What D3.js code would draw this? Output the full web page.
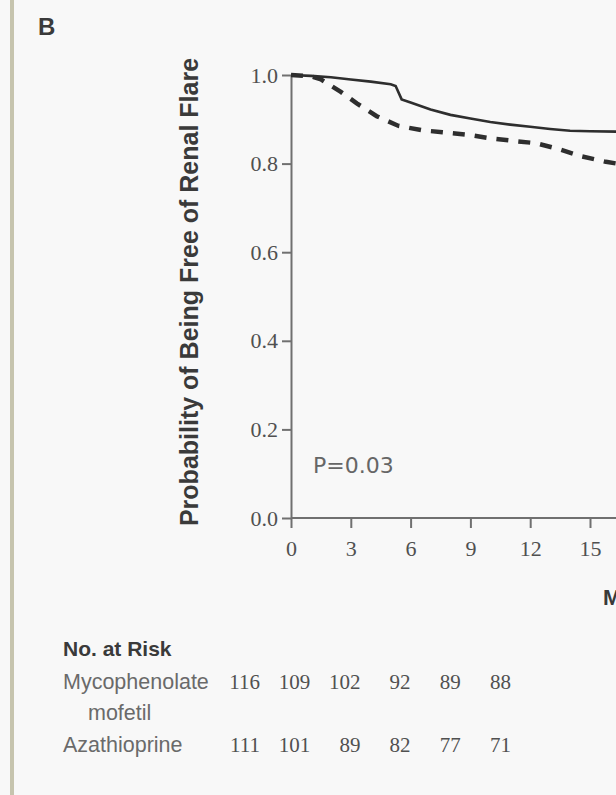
<!DOCTYPE html>
<html>
<head>
<meta charset="utf-8">
<script src="https://cdn.jsdelivr.net/npm/d3@7"></script>
<style>
body{margin:0;background:#f8f8f8;}
svg{display:block;}
</style>
</head>
<body>
<div id="chart"></div>
<script>
// Kaplan-Meier readings, months and survival, one pair per arm
var mmfMonths = [0, 1, 2, 3, 4, 5, 5.25, 5.55, 6, 7, 8, 9, 10, 11, 12, 13, 14, 15, 16.5]
var mmfSurv = [1, 0.998, 0.995, 0.99, 0.985, 0.979, 0.975, 0.945, 0.938, 0.922, 0.91, 0.902, 0.894, 0.888, 0.883, 0.878, 0.874, 0.873, 0.872]
var azaMonths = [0, 1, 1.5, 2.5, 3.3, 4.3, 5.4, 6.6, 7.6, 8.9, 10, 11.2, 12.3, 13.5, 14.6, 15.8, 16.5]
var azaSurv = [1, 0.997, 0.99, 0.962, 0.936, 0.907, 0.885, 0.875, 0.871, 0.865, 0.857, 0.851, 0.846, 0.832, 0.816, 0.804, 0.799]

var xTicks = [0, 3, 6, 9, 12, 15]
var yTicks = [0, 0.2, 0.4, 0.6, 0.8, 1.0]

var riskTimes = [0, 3, 6, 9, 12, 15]
var riskMmf = [116, 109, 102, 92, 89, 88]
var riskAza = [111, 101, 89, 82, 77, 71]

var w = 616
var h = 795

var svg = d3.select("#chart").append("svg").attr("width", w).attr("height", h)

svg.append("rect").attr("width", w).attr("height", h).attr("fill", "#f8f8f8")
// panel edge on the left
svg.append("rect").attr("x", 10).attr("y", 0).attr("width", 4).attr("height", h).attr("fill", "#c6c4ae")

svg.append("text").text("B")
	.attr("x", 38).attr("y", 35)
	.style("font-family", "'Liberation Sans', Arial, sans-serif")
	.style("font-weight", 700).style("font-size", "24px").attr("fill", "#3a3a3a")

var x = d3.scaleLinear().domain([0, 15]).range([291, 590])
var y = d3.scaleLinear().domain([0, 1]).range([518, 75])

// y axis
var yAxis = svg.append("g").attr("transform", "translate(" + x(0) + ",0)")
	.call(d3.axisLeft(y).tickValues(yTicks).tickSize(9).tickSizeOuter(0).tickPadding(4).tickFormat(d3.format(".1f")))
// x axis
var xAxis = svg.append("g").attr("transform", "translate(0," + y(0) + ")")
	.call(d3.axisBottom(x).tickValues(xTicks).tickSize(10).tickSizeOuter(0).tickPadding(12))
xAxis.select(".domain").attr("d", "M" + x(0) + ",0H" + w)

svg.selectAll(".domain, .tick line").attr("stroke", "#707070").attr("stroke-width", 2)
svg.selectAll(".tick text")
	.style("font-family", "'Liberation Serif', 'DejaVu Serif', serif")
	.style("font-size", "22px").attr("fill", "#505050")

svg.append("text").text("Probability of Being Free of Renal Flare")
	.attr("transform", "translate(198,292) rotate(-90)")
	.attr("text-anchor", "middle")
	.style("font-family", "'Liberation Sans', Arial, sans-serif")
	.style("font-weight", 700).style("font-size", "25px").attr("fill", "#3a3a3a")

svg.append("text").text("Months")
	.attr("x", 603).attr("y", 605)
	.style("font-family", "'Liberation Sans', Arial, sans-serif")
	.style("font-weight", 700).style("font-size", "22px").attr("fill", "#3a3a3a")

svg.append("text").text("P=0.03")
	.attr("x", 313).attr("y", 473)
	.style("font-family", "'DejaVu Sans', sans-serif")
	.style("font-size", "22px").attr("fill", "#666")

var line = d3.line().x(function(d){ return x(d[0]) }).y(function(d){ return y(d[1]) })

var clip = svg.append("clipPath").attr("id", "plot")
clip.append("rect").attr("x", x(0)).attr("y", 60).attr("width", w - x(0)).attr("height", y(0) - 60)

svg.append("path")
	.datum(d3.zip(azaMonths, azaSurv))
	.attr("d", line).attr("clip-path", "url(#plot)")
	.attr("fill", "none").attr("stroke", "#2e2e2e").attr("stroke-width", 4.5)
	.attr("stroke-dasharray", "12 10")

svg.append("path")
	.datum(d3.zip(mmfMonths, mmfSurv))
	.attr("d", line).attr("clip-path", "url(#plot)")
	.attr("fill", "none").attr("stroke", "#2e2e2e").attr("stroke-width", 2.6)

// number at risk table
var tableX = d3.scalePoint().domain(riskTimes).range([260, 511])
var labelFont = "'Liberation Sans', Arial, sans-serif"

svg.append("text").text("No. at Risk")
	.attr("x", 63).attr("y", 656)
	.style("font-family", labelFont).style("font-weight", 700)
	.style("font-size", "21px").attr("fill", "#3a3a3a")

var rows = [
	{label: ["Mycophenolate", "mofetil"], values: riskMmf, y: 689},
	{label: ["Azathioprine"], values: riskAza, y: 752}
]
rows.forEach(function(r){
	r.label.forEach(function(t, i){
		svg.append("text").text(t)
			.attr("x", i == 0 ? 63 : 88).attr("y", r.y + i * 31)
			.style("font-family", labelFont).style("font-size", "21.5px").attr("fill", "#6a6a6a")
	})
	svg.selectAll(null).data(r.values).enter().append("text")
		.text(function(d){ return d })
		.attr("x", function(d, i){ return tableX(riskTimes[i]) })
		.attr("y", r.y)
		.attr("text-anchor", "end")
		.style("font-family", "'Liberation Serif', serif").style("font-size", "21px").attr("fill", "#505050")
})
</script>
</body>
</html>
